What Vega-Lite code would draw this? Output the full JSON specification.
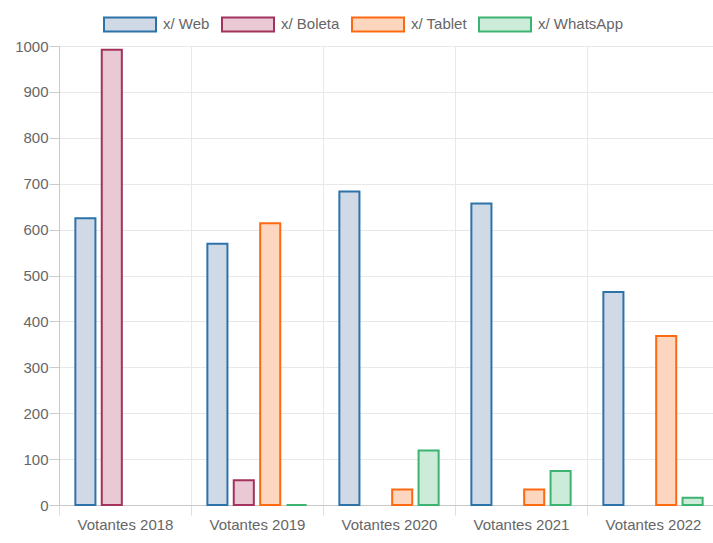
{
  "$schema": "https://vega.github.io/schema/vega-lite/v6.json",
  "width": 660,
  "height": 459,
  "autosize": {"type": "none"},
  "padding": {"left": 59, "top": 46, "right": 0, "bottom": 38},
  "background": "white",
  "config": {
    "view": {"stroke": null},
    "font": "Liberation Sans",
    "axis": {"labelFont": "Liberation Sans", "labelColor": "#666666", "labelFontSize": 15}
  },
  "data": {
    "values": [
      {"year": "Votantes 2018", "series": "x/ Web", "value": 625},
      {"year": "Votantes 2018", "series": "x/ Boleta", "value": 992},
      {"year": "Votantes 2019", "series": "x/ Web", "value": 569},
      {"year": "Votantes 2019", "series": "x/ Boleta", "value": 54},
      {"year": "Votantes 2019", "series": "x/ Tablet", "value": 614},
      {"year": "Votantes 2019", "series": "x/ WhatsApp", "value": 0},
      {"year": "Votantes 2020", "series": "x/ Web", "value": 683},
      {"year": "Votantes 2020", "series": "x/ Tablet", "value": 34},
      {"year": "Votantes 2020", "series": "x/ WhatsApp", "value": 119},
      {"year": "Votantes 2021", "series": "x/ Web", "value": 657},
      {"year": "Votantes 2021", "series": "x/ Tablet", "value": 34},
      {"year": "Votantes 2021", "series": "x/ WhatsApp", "value": 74},
      {"year": "Votantes 2022", "series": "x/ Web", "value": 464},
      {"year": "Votantes 2022", "series": "x/ Tablet", "value": 368},
      {"year": "Votantes 2022", "series": "x/ WhatsApp", "value": 16}
    ]
  },
  "mark": {"type": "bar", "strokeWidth": 2},
  "encoding": {
    "x": {
      "field": "year",
      "type": "nominal",
      "sort": null,
      "scale": {"paddingInner": 0, "paddingOuter": 0},
      "axis": {
        "title": null,
        "labelAngle": 0,
        "tickBand": "extent",
        "grid": true,
        "gridColor": "#e8e8e8",
        "domainColor": "#c8c8c8",
        "tickColor": "#dddddd",
        "tickSize": 10,
        "labelPadding": 2
      }
    },
    "xOffset": {
      "field": "series",
      "type": "nominal",
      "scale": {
        "domain": ["x/ Web", "x/ Boleta", "x/ Tablet", "x/ WhatsApp"],
        "paddingInner": 0.24,
        "paddingOuter": 0.62
      }
    },
    "y": {
      "field": "value",
      "type": "quantitative",
      "scale": {"domain": [0, 1000], "nice": false},
      "axis": {
        "title": null,
        "format": "d",
        "values": [0, 100, 200, 300, 400, 500, 600, 700, 800, 900, 1000],
        "grid": true,
        "gridColor": "#e8e8e8",
        "domainColor": "#c8c8c8",
        "tickColor": "#cccccc",
        "tickSize": 10,
        "labelPadding": 1
      }
    },
    "fill": {
      "field": "series",
      "type": "nominal",
      "scale": {
        "domain": ["x/ Web", "x/ Boleta", "x/ Tablet", "x/ WhatsApp"],
        "range": ["#d0d9e6", "#e8c9d4", "#fdd6bf", "#cdebd9"]
      },
      "legend": {
        "title": null,
        "orient": "none",
        "legendX": 44,
        "legendY": -49,
        "direction": "horizontal",
        "labelFont": "Liberation Sans",
        "labelFontSize": 15,
        "labelColor": "#666666",
        "symbolType": "M-1,-0.27L1,-0.27L1,0.27L-1,0.27Z",
        "symbolSize": 2704,
        "symbolStrokeWidth": 2,
        "labelOffset": 6,
        "columnPadding": 8
      }
    },
    "stroke": {
      "field": "series",
      "type": "nominal",
      "scale": {
        "domain": ["x/ Web", "x/ Boleta", "x/ Tablet", "x/ WhatsApp"],
        "range": ["#2c73aa", "#a3325c", "#fd6a12", "#3cb371"]
      },
      "legend": {
        "title": null,
        "orient": "none",
        "legendX": 44,
        "legendY": -49,
        "direction": "horizontal",
        "labelFont": "Liberation Sans",
        "labelFontSize": 15,
        "labelColor": "#666666",
        "symbolType": "M-1,-0.27L1,-0.27L1,0.27L-1,0.27Z",
        "symbolSize": 2704,
        "symbolStrokeWidth": 2,
        "labelOffset": 6,
        "columnPadding": 8
      }
    }
  }
}
